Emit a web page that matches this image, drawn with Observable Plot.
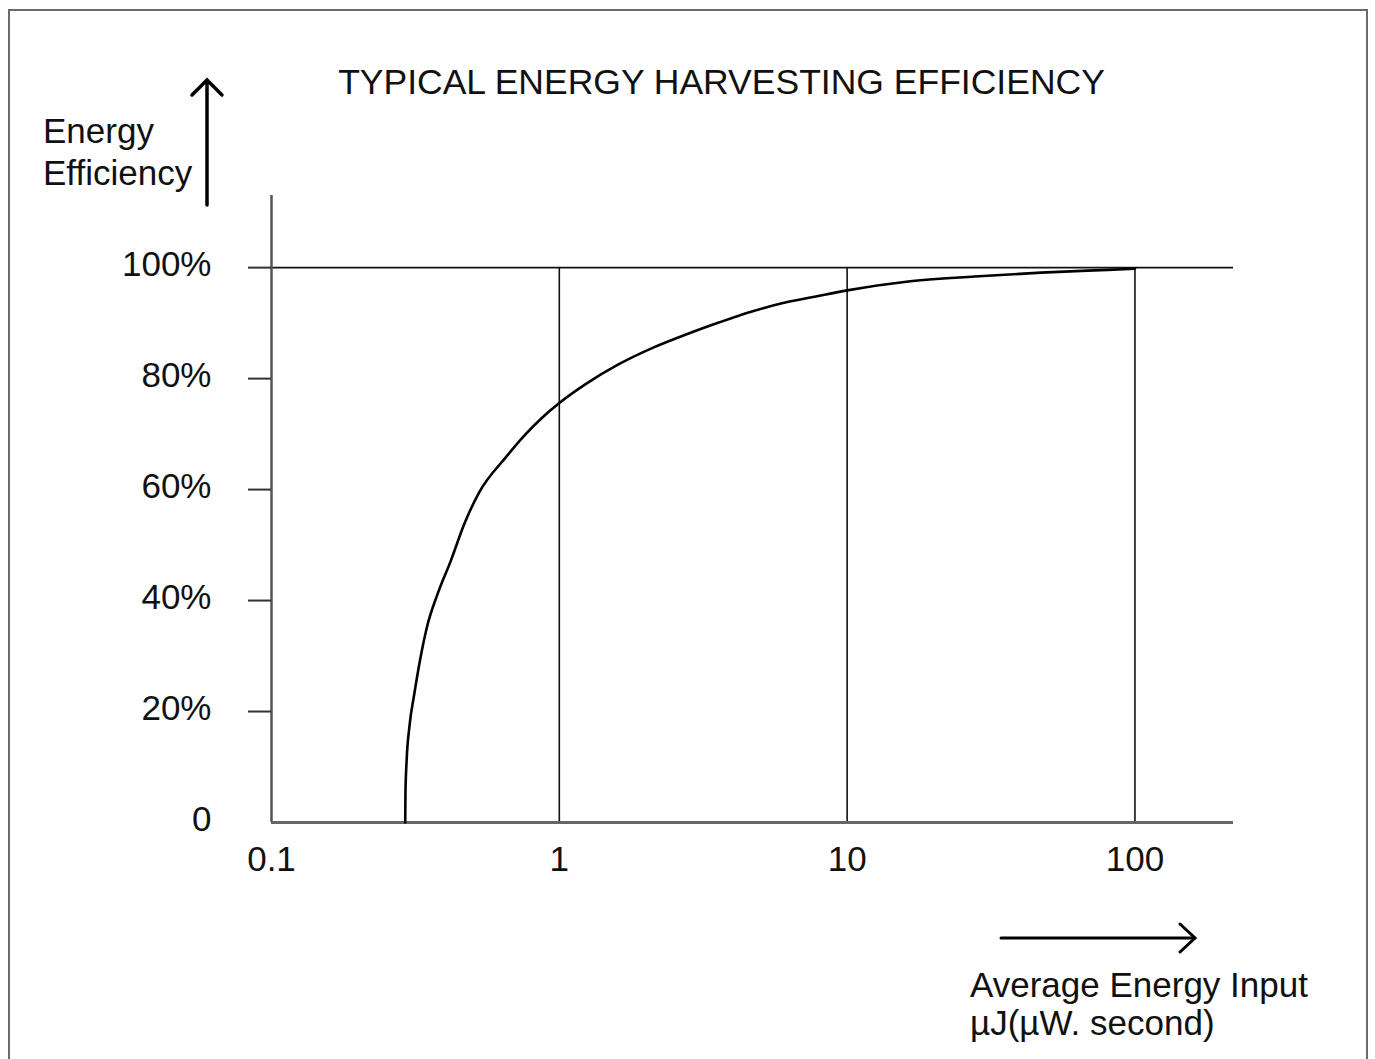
<!DOCTYPE html>
<html>
<head>
<meta charset="utf-8">
<script src="https://cdn.jsdelivr.net/npm/d3@7"></script>
<script src="https://cdn.jsdelivr.net/npm/@observablehq/plot@0.6"></script>
<style>
  html, body { margin: 0; padding: 0; background: #fff; }
  #wrap { position: relative; width: 1375px; height: 1059px; overflow: hidden; background: #fff;
          font-family: "Liberation Sans", Arial, Helvetica, sans-serif; color: #111; }
  #frameBox { position: absolute; left: 8px; top: 9px; width: 1360px; height: 1100px;
              border: 2.5px solid #6a6a6a; box-sizing: border-box; }
  #chart { position: absolute; left: 0; top: 0; }
  .txt { position: absolute; white-space: nowrap; font-size: 35px; line-height: 35px; }
  #title { left: 721.5px; top: 65px; transform: translateX(-50%); font-size: 35.5px; }
  #ylab { left: 43px; top: 110px; line-height: 42px; }
  #xlab { left: 970px; top: 966px; line-height: 38px; }
  #arrows { position: absolute; left: 0; top: 0; }
</style>
</head>
<body>
<div id="wrap">
  <div id="frameBox"></div>
  <div id="chart"></div>
  <div id="title" class="txt">TYPICAL ENERGY HARVESTING EFFICIENCY</div>
  <div id="ylab" class="txt">Energy<br>Efficiency</div>
  <div id="xlab" class="txt">Average Energy Input<br>µJ(µW. second)</div>
  <svg id="arrows" width="1375" height="1059">
    <g stroke="#000" stroke-width="3.5" fill="none" stroke-linecap="round">
      <line x1="207" y1="205" x2="207" y2="81"/>
      <polyline points="192,95 207,80 222,95"/>
    </g>
    <g stroke="#000" stroke-width="3" fill="none" stroke-linecap="round">
      <line x1="1001" y1="938" x2="1194" y2="938"/>
      <polyline points="1180,924 1195,938 1180,952"/>
    </g>
  </svg>
</div>
<script>
// Data
const energyInput = [0.2915, 0.2920, 0.2948, 0.3013, 0.3135, 0.328, 0.3467, 0.3777, 0.420, 0.4675, 0.5268, 0.6515, 0.7641, 0.8732, 1.0, 1.234, 1.61, 2.10, 2.74, 3.58, 4.67, 6.09, 7.94, 10, 16.3, 27.7, 47.2, 80.4, 100];
const efficiency  = [0,      5.2,    11.2,   17.2,   23.2,   29.2,  35.2,   41.2,   47.2,  53.8,   59.5,   65.8,   70.0,   73.0,   75.6, 79.0,  82.6, 85.5, 87.9, 90.1, 92.1, 93.7, 94.9, 95.9, 97.5, 98.4, 99.1, 99.6, 99.8];

const xTicks = [0.1, 1, 10, 100];
const xTickLabels = ["0.1", "1", "10", "100"];
const gridX = [1, 10, 100];
const yTicks = [0, 20, 40, 60, 80, 100];
const yTickLabels = ["0", "20%", "40%", "60%", "80%", "100%"];
const yTickMarks = [20, 40, 60, 80, 100];

const curve = energyInput.map((e, i) => ({energy: e, eff: efficiency[i]}));

const chart = Plot.plot({
  width: 1375,
  height: 1059,
  marginLeft: 271,
  marginRight: 142,
  marginTop: 195,
  marginBottom: 237,
  x: {type: "log", domain: [0.1, 220], label: null},
  y: {domain: [0, 113], label: null},
  style: {fontFamily: "'Liberation Sans', Arial, Helvetica, sans-serif", fontSize: "35px", color: "#111", background: "transparent", overflow: "visible"},
  marks: [
    Plot.ruleX(gridX, {y1: 0, y2: 100, stroke: "#111", strokeWidth: 1.6}),
    Plot.ruleY([100], {stroke: "#111", strokeWidth: 1.6}),
    Plot.ruleX([0.1], {stroke: "#555", strokeWidth: 2.5}),
    Plot.ruleY([0], {stroke: "#666", strokeWidth: 3}),
    Plot.axisY(yTickMarks, {tickSize: 23, tickFormat: () => "", stroke: "#333", strokeWidth: 2, label: null}),
    Plot.axisY(yTicks, {tickSize: 0, tickPadding: 60, dy: -3, fontSize: 35, fill: "#111",
      tickFormat: d => yTickLabels[yTicks.indexOf(d)], label: null}),
    Plot.axisX(xTicks, {tickSize: 0, tickPadding: 24, fontSize: 35, fill: "#111",
      tickFormat: d => xTickLabels[xTicks.indexOf(d)], label: null}),
    Plot.line(curve, {x: "energy", y: "eff", stroke: "#000", strokeWidth: 2.6, curve: "monotone-x"})
  ]
});
document.getElementById("chart").appendChild(chart);
</script>
</body>
</html>
